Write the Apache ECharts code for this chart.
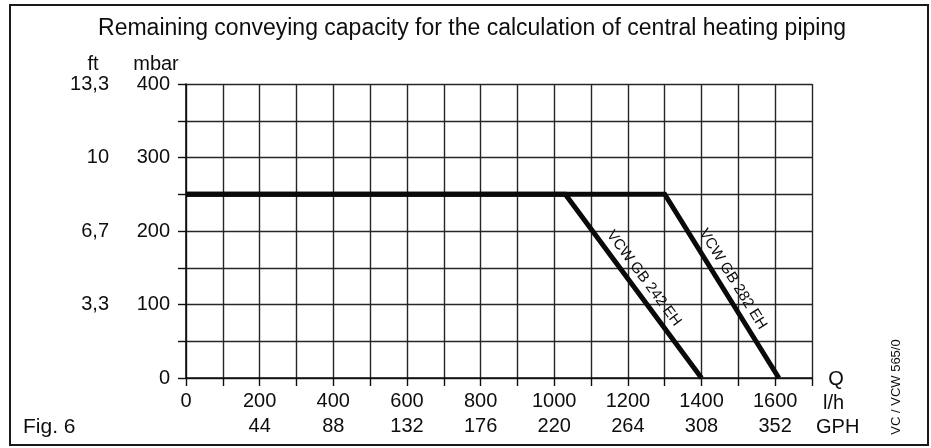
<!DOCTYPE html>
<html>
<head>
<meta charset="utf-8">
<script src="https://cdn.jsdelivr.net/npm/echarts@6/dist/echarts.min.js"></script>
<style>
html,body{margin:0;padding:0;background:#fff;}
#c{width:931px;height:448px;}
</style>
</head>
<body>
<div id="c"></div>
<script>
// ---- data ----
const titleText = 'Remaining conveying capacity for the calculation of central heating piping';
const lhTicks = [0, 200, 400, 600, 800, 1000, 1200, 1400, 1600];
const gphLabels = ['', '44', '88', '132', '176', '220', '264', '308', '352'];
const mbarTicks = [0, 100, 200, 300, 400];
const ftLabels = ['', '3,3', '6,7', '10', '13,3'];
const q242 = [0, 1030, 1400];
const p242 = [250, 250, 0];
const q282 = [0, 1300, 1610];
const p282 = [250, 250, 0];
const name242 = 'VCW GB 242 EH';
const name282 = 'VCW GB 282 EH';

const FONT = '"Liberation Sans", Arial, Helvetica, sans-serif';
const INK = '#0e0e0e';

const chart = echarts.init(document.getElementById('c'), null, {renderer: 'canvas'});

function pts(xs, ys) { return xs.map((x, i) => [x, ys[i]]); }

const gridLine = {show: true, lineStyle: {color: '#262626', width: 1.4}};

const option = {
  backgroundColor: '#ffffff',
  animation: false,
  grid: {left: 186, top: 84, right: 119, bottom: 70},
  xAxis: [
    {
      type: 'value', min: 0, max: 1700, interval: 100, position: 'bottom',
      axisLine: {show: true, onZero: false, lineStyle: {color: INK, width: 1.6}},
      axisTick: {show: true, length: 8, lineStyle: {color: INK, width: 1.4}},
      splitLine: gridLine,
      axisLabel: {
        margin: 13, color: INK, fontSize: 20, fontFamily: FONT,
        formatter: v => (lhTicks.indexOf(v) >= 0 ? String(v) : '')
      }
    },
    {
      type: 'value', min: 0, max: 1700, interval: 100, position: 'bottom', offset: 25,
      axisLine: {show: false}, axisTick: {show: false}, splitLine: {show: false},
      axisLabel: {
        margin: 13, color: INK, fontSize: 20, fontFamily: FONT,
        formatter: v => { const i = lhTicks.indexOf(v); return i >= 0 ? gphLabels[i] : ''; }
      }
    }
  ],
  yAxis: [
    {
      type: 'value', min: 0, max: 400, interval: 50, position: 'left',
      axisLine: {show: true, onZero: false, lineStyle: {color: INK, width: 1.6}},
      axisTick: {show: true, length: 8, lineStyle: {color: INK, width: 1.4}},
      splitLine: gridLine,
      axisLabel: {
        margin: 16, color: INK, fontSize: 20, fontFamily: FONT,
        formatter: v => (mbarTicks.indexOf(v) >= 0 ? String(v) : '')
      }
    },
    {
      type: 'value', min: 0, max: 400, interval: 50, position: 'left', offset: 61,
      axisLine: {show: false}, axisTick: {show: false}, splitLine: {show: false},
      axisLabel: {
        margin: 16, color: INK, fontSize: 20, fontFamily: FONT,
        formatter: v => { const i = mbarTicks.indexOf(v); return i >= 0 ? ftLabels[i] : ''; }
      }
    }
  ],
  series: [
    {
      name: name242, type: 'line', xAxisIndex: 0, yAxisIndex: 0,
      data: pts(q242, p242), symbol: 'none',
      lineStyle: {color: '#0a0a0a', width: 5, join: 'miter'}
    },
    {
      name: name282, type: 'line', xAxisIndex: 0, yAxisIndex: 0,
      data: pts(q282, p282), symbol: 'none',
      lineStyle: {color: '#0a0a0a', width: 5, join: 'miter'}
    }
  ]
};
chart.setOption(option);

function slopeLabel(xs, ys, text) {
  const a = chart.convertToPixel({xAxisIndex: 0, yAxisIndex: 0}, [xs[1], ys[1]]);
  const b = chart.convertToPixel({xAxisIndex: 0, yAxisIndex: 0}, [xs[2], ys[2]]);
  const dx = b[0] - a[0], dy = b[1] - a[1];
  const len = Math.sqrt(dx * dx + dy * dy);
  const ux = dx / len, uy = dy / len;
  const mx = (a[0] + b[0]) / 2, my = (a[1] + b[1]) / 2;
  const off = 13;
  return {
    type: 'text', x: mx + uy * off, y: my - ux * off,
    rotation: -Math.atan2(dy, dx),
    style: {text: text, fill: INK, fontSize: 15, fontFamily: FONT, align: 'center', verticalAlign: 'middle'}
  };
}

chart.setOption({
  graphic: [
    {type: 'rect', shape: {x: 10, y: 5, width: 918, height: 440}, style: {fill: null, stroke: '#1a1a1a', lineWidth: 2}},
    {type: 'text', x: 472, y: 29, style: {text: titleText, fill: INK, fontSize: 23, fontFamily: FONT, align: 'center', verticalAlign: 'middle'}},
    {type: 'text', x: 93, y: 64, style: {text: 'ft', fill: INK, fontSize: 20, fontFamily: FONT, align: 'center', verticalAlign: 'middle'}},
    {type: 'text', x: 156, y: 64, style: {text: 'mbar', fill: INK, fontSize: 20, fontFamily: FONT, align: 'center', verticalAlign: 'middle'}},
    {type: 'text', x: 836, y: 379, style: {text: 'Q', fill: INK, fontSize: 20, fontFamily: FONT, align: 'center', verticalAlign: 'middle'}},
    {type: 'text', x: 823, y: 403, style: {text: 'l/h', fill: INK, fontSize: 20, fontFamily: FONT, align: 'left', verticalAlign: 'middle'}},
    {type: 'text', x: 816, y: 427, style: {text: 'GPH', fill: INK, fontSize: 20, fontFamily: FONT, align: 'left', verticalAlign: 'middle'}},
    {type: 'text', x: 23, y: 427, style: {text: 'Fig. 6', fill: INK, fontSize: 21, fontFamily: FONT, align: 'left', verticalAlign: 'middle'}},
    {type: 'text', x: 896, y: 387, rotation: Math.PI / 2, style: {text: 'VC / VCW 565/0', fill: INK, fontSize: 13, fontFamily: FONT, align: 'center', verticalAlign: 'middle'}},
    slopeLabel(q242, p242, name242),
    slopeLabel(q282, p282, name282)
  ]
});
</script>
</body>
</html>
